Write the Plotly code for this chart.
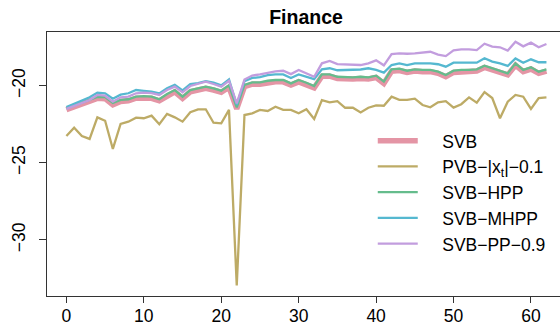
import plotly.graph_objects as go

# ---- data ----
t = list(range(63))

svb = [-21.55, -21.38, -21.20, -21.00, -20.82, -20.84, -21.24, -21.02, -20.98, -20.81,
       -20.78, -20.82, -20.98, -20.64, -20.40, -20.82, -20.40, -20.28, -20.17, -20.28,
       -20.43, -20.10, -21.50, -20.06, -19.90, -19.90, -19.80, -19.75, -19.75, -19.96,
       -19.75, -19.92, -20.14, -19.38, -19.38, -19.53, -19.57, -19.57, -19.53, -19.57,
       -19.47, -19.85, -19.06, -19.02, -19.14, -19.05, -19.09, -19.09, -19.20, -19.42,
       -19.14, -19.09, -19.09, -19.05, -18.82, -18.98, -19.14, -19.30, -18.67, -19.09,
       -18.92, -19.20, -19.05]

pvb = [-23.26, -22.72, -23.26, -23.45, -22.05, -22.27, -24.10, -22.48, -22.33, -22.07,
       -22.11, -21.94, -22.50, -21.83, -22.05, -22.33, -21.72, -21.53, -21.53, -22.40,
       -22.44, -21.57, -32.95, -21.90, -21.79, -21.57, -21.64, -21.36, -21.57, -21.57,
       -21.79, -21.53, -22.16, -20.93, -21.08, -21.00, -21.43, -21.43, -21.73, -21.43,
       -21.28, -21.30, -20.71, -20.92, -20.92, -20.84, -21.25, -21.40, -21.08, -21.00,
       -21.42, -21.20, -20.76, -21.10, -20.42, -20.80, -22.11, -21.04, -20.60, -20.71,
       -21.50, -20.80, -20.76]

hpp = [-21.45, -21.28, -21.10, -20.90, -20.72, -20.74, -21.12, -20.92, -20.88, -20.71,
       -20.67, -20.71, -20.88, -20.54, -20.28, -20.71, -20.28, -20.17, -20.06, -20.17,
       -20.32, -19.98, -21.40, -19.95, -19.78, -19.78, -19.68, -19.63, -19.63, -19.85,
       -19.63, -19.81, -20.02, -19.26, -19.26, -19.42, -19.46, -19.46, -19.42, -19.46,
       -19.35, -19.74, -18.94, -18.90, -19.03, -18.94, -18.98, -18.98, -19.09, -19.31,
       -19.03, -18.98, -18.98, -18.94, -18.70, -18.87, -19.03, -19.20, -18.55, -18.98,
       -18.81, -19.09, -18.94]

mhpp = [-21.38, -21.18, -21.00, -20.75, -20.45, -20.49, -20.84, -20.58, -20.49, -20.28,
        -20.33, -20.39, -20.50, -20.17, -19.95, -20.30, -19.89, -19.83, -19.70, -19.80,
        -19.98, -19.60, -21.25, -19.70, -19.50, -19.45, -19.32, -19.27, -19.27, -19.50,
        -19.27, -19.45, -19.58, -18.94, -18.87, -19.00, -18.98, -18.95, -18.95, -18.87,
        -18.98, -19.15, -18.66, -18.55, -18.66, -18.55, -18.55, -18.55, -18.61, -18.77,
        -18.51, -18.51, -18.51, -18.51, -18.22, -18.44, -18.55, -18.72, -18.23, -18.51,
        -18.29, -18.48, -18.48]

pp09 = [-21.50, -21.32, -21.14, -20.93, -20.60, -20.65, -21.04, -20.75, -20.71, -20.49,
        -20.45, -20.48, -20.60, -20.28, -20.06, -20.43, -20.02, -19.89, -19.74, -19.89,
        -20.06, -19.68, -21.14, -19.60, -19.34, -19.27, -19.16, -19.07, -19.03, -19.25,
        -18.98, -19.20, -19.42, -18.55, -18.39, -18.60, -18.62, -18.64, -18.66, -18.55,
        -18.36, -18.68, -17.95, -17.90, -17.93, -17.90, -17.86, -17.80, -17.98, -18.08,
        -17.71, -17.64, -17.64, -17.69, -17.28, -17.47, -17.51, -17.72, -17.15, -17.45,
        -17.21, -17.51, -17.30]

series_names = ["SVB", "PVB−|x<sub>t</sub>|−0.1", "SVB−HPP", "SVB−MHPP", "SVB−PP−0.9"]
series_values = [svb, pvb, hpp, mhpp, pp09]
colors = ["#E495A5", "#BDAB66", "#65BC8C", "#55B8D0", "#C29DDE"]
widths = [5.5, 2.3, 2.3, 2.3, 2.3]

x_ticks = [0, 10, 20, 30, 40, 50, 60]
y_ticks = [-30, -25, -20]

FONT = "Liberation Sans, Arial, Helvetica, sans-serif"
PAD = "\u00a0" * 4  # gap between legend line sample and label

fig = go.Figure()
for name, vals, col, w in zip(series_names, series_values, colors, widths):
    fig.add_trace(go.Scatter(x=t, y=vals, mode="lines", name=PAD + name,
                             line=dict(color=col, width=w)))

fig.update_layout(
    width=560, height=325,
    margin=dict(l=47, r=0, t=32, b=29, autoexpand=False),
    paper_bgcolor="white", plot_bgcolor="white",
    font=dict(family=FONT, size=17.5, color="black"),
    title=dict(text="<b>Finance</b>", x=306 / 560, xref="container", xanchor="center",
               y=1 - 24 / 325, yref="container", yanchor="bottom",
               font=dict(family=FONT, size=19.5, color="black")),
    showlegend=True,
    legend=dict(x=0.635, y=0.656, xanchor="left", yanchor="top",
                bgcolor="rgba(0,0,0,0)", itemwidth=40,
                font=dict(family=FONT, size=17.5, color="black"),
                tracegroupgap=0),
)
fig.update_xaxes(range=[-2.505, 63.75], tickvals=x_ticks, ticks="outside", ticklen=6,
                 tickcolor="#333", showline=True, linecolor="#333", linewidth=1,
                 mirror=True, ticklabelstandoff=-2, automargin=False,
                 showgrid=False, zeroline=False)
fig.update_yaxes(range=[-33.63, -16.52], tickvals=y_ticks, ticks="outside", ticklen=7,
                 tickcolor="#333", showline=True, linecolor="#333", linewidth=1,
                 tickangle=-90, ticklabelstandoff=7, automargin=False,
                 showgrid=False, zeroline=False)

fig.write_html("out.html", config={"displayModeBar": False},
               post_script="document.body.style.margin='0';document.body.style.padding='0';")
